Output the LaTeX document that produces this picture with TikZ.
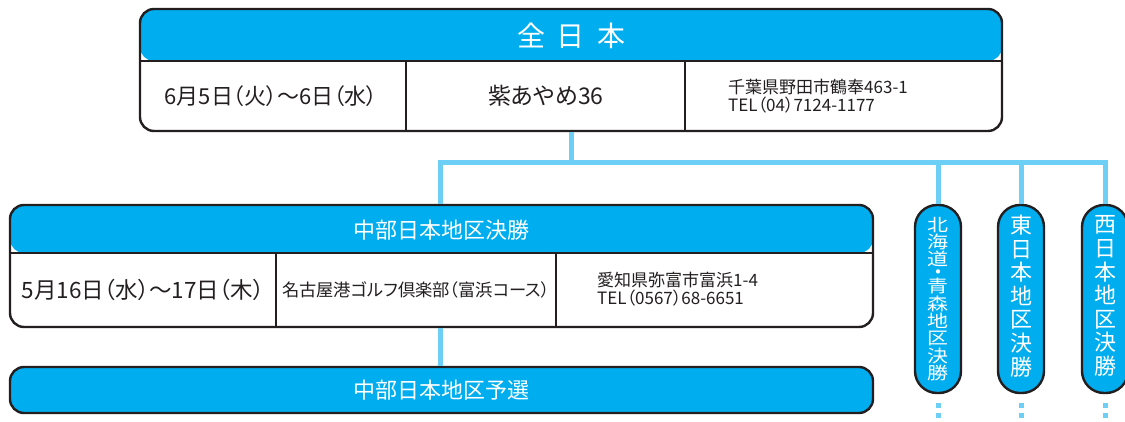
\documentclass[tikz,border=0pt]{standalone}
\usepackage{fontspec}
\setmainfont{Noto Sans CJK JP}[RawFeature=+palt]
\newfontfamily\jpf{Noto Sans CJK JP}
\definecolor{cblue}{HTML}{00AEEF}
\definecolor{lblue}{HTML}{6DCFF6}
\definecolor{dark}{HTML}{231F20}
\newcommand{\vsq}[1]{\scalebox{1}[0.82]{#1}}
\begin{document}
\begin{tikzpicture}[x=1pt,y=-1pt,
  box/.style={draw=dark, line width=2.4pt, rounded corners=14pt, fill=white, inner sep=0pt},
  hdr/.style={path picture={\fill[cblue] (path picture bounding box.north west) rectangle ([yshift=-#1]path picture bounding box.north east);
     \draw[dark,line width=1.4pt] ([yshift=-#1]path picture bounding box.north west) -- ([yshift=-#1]path picture bounding box.north east);}},
  pill/.style={draw=dark, line width=2.4pt, rounded corners=22pt, fill=cblue, inner sep=0pt, minimum width=46pt, minimum height=188pt},
  conn/.style={draw=lblue, line width=5pt},
  dots/.style={draw=lblue, line width=5pt, dash pattern=on 5pt off 5pt},
  sep/.style={draw=dark, line width=1.2pt},
  wt/.style={text=white, inner sep=0pt},
  dt/.style={text=dark, inner sep=0pt, font=\fontsize{22}{22}\selectfont},
  ad/.style={text=dark, inner sep=0pt, align=left, anchor=west, font=\fontsize{17}{18.5}\selectfont},
  vt/.style={text=white, inner sep=0pt, align=center}
]
\useasboundingbox (0,0) rectangle (1125,422);

% connectors
\coordinate (bus) at (0,163);
\coordinate (e1) at (938,422);
\coordinate (e2) at (1021,422);
\coordinate (e3) at (1105,422);

% boxes
\node[box, hdr=52pt, minimum width=862pt, minimum height=122pt] (zen) at (571,70) {};
\node[box, hdr=48pt, minimum width=863pt, minimum height=122pt] (chubu) at (441.5,266) {};
\node[box, fill=cblue, minimum width=863pt, minimum height=46pt] (yosen) at (441.5,390) {};
\node[pill] (n1) at (938,299) {};
\node[pill] (n2) at (1021,299) {};
\node[pill] (n3) at (1105,299) {};

\draw[conn] (zen.south) -- (zen.south |- bus);
\draw[conn] (chubu.north -| 440,0) -- (440,163) -- (n3.north |- bus) -- (n3.north);
\draw[conn] (n1.north) -- (n1.north |- bus);
\draw[conn] (n2.north) -- (n2.north |- bus);
\draw[conn] (yosen.north -| 440,0) -- (chubu.south -| 440,0);
\draw[dots] ([yshift=-9pt]n1.south) -- (e1);
\draw[dots] ([yshift=-9pt]n2.south) -- (e2);
\draw[dots] ([yshift=-9pt]n3.south) -- (e3);

% column separators
\draw[sep] (406,61) -- (406,131);
\draw[sep] (685,61) -- (685,131);
\draw[sep] (276,253) -- (276,327);
\draw[sep] (556,253) -- (556,327);

% texts
\node[wt, font=\jpf\fontsize{28}{28}\selectfont] (t0) at (571,36) {全\hspace{12pt}日\hspace{12pt}本};
\node[dt] (t1) at (271,96) {6月5日（火）〜6日（水）};
\node[dt, font=\fontsize{23}{23}\selectfont] (t2) at (546,96) {紫あやめ36};
\node[ad] (t3) at (728,96) {千葉県野田市鶴奉463-1\\TEL（04）7124-1177};

\node[wt, font=\jpf\fontsize{22}{22}\selectfont] (m0) at (441,230) {中部日本地区決勝};
\node[dt, font=\fontsize{22.5}{22.5}\selectfont] (m1) at (143,290) {5月16日（水）〜17日（木）};
\node[dt, font=\fontsize{17.3}{17.3}\selectfont] (m2) at (416,290) {名古屋港ゴルフ倶楽部（富浜コース）};
\node[ad] (m3) at (597,289) {愛知県弥富市富浜1-4\\TEL（0567）68-6651};

\node[wt, font=\jpf\fontsize{22}{22}\selectfont] (b0) at (441,390) {中部日本地区予選};

\node[vt, font=\fontsize{21}{17.4}\selectfont] (v1) at (938,299) {\vsq{北}\\\vsq{海}\\\vsq{道}\\[-4pt]{\jpf\fontsize{20}{20}\selectfont ・}\\[-4pt]\vsq{青}\\\vsq{森}\\\vsq{地}\\\vsq{区}\\\vsq{決}\\\vsq{勝}};
\node[vt, font=\fontsize{22}{23.6}\selectfont] (v2) at (1021,296) {東\\日\\本\\地\\区\\決\\勝};
\node[vt, font=\fontsize{22}{23.6}\selectfont] (v3) at (1105,296) {西\\日\\本\\地\\区\\決\\勝};
\end{tikzpicture}
\end{document}
